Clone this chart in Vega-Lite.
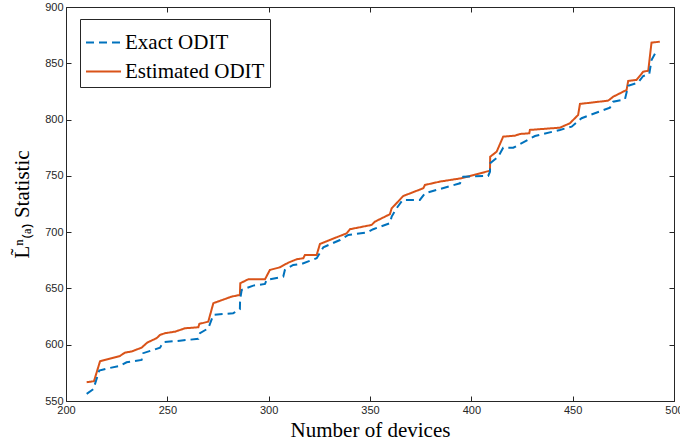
{
  "$schema": "https://vega.github.io/schema/vega-lite/v6.json",
  "width": 608,
  "height": 394,
  "autosize": {"type": "none"},
  "padding": {"left": 66, "top": 7, "right": 6, "bottom": 44},
  "config": {
    "view": {"stroke": "#262626", "strokeWidth": 1},
    "axis": {
      "domain": false,
      "grid": false,
      "tickSize": -5,
      "tickColor": "#262626",
      "labelFlush": false,
      "labelFont": "Liberation Sans",
      "labelFontSize": 11,
      "labelColor": "#262626",
      "titleFont": "Liberation Serif",
      "titleFontSize": 21,
      "titleFontWeight": "normal",
      "titleColor": "#000000"
    },
    "legend": {
      "orient": "none",
      "legendX": 14,
      "legendY": 12,
      "strokeColor": "#262626",
      "fillColor": "#ffffff",
      "padding": 5,
      "labelFont": "Liberation Serif",
      "labelFontSize": 21,
      "labelColor": "#000000",
      "symbolType": "stroke",
      "symbolSize": 1225,
      "symbolStrokeWidth": 2,
      "rowPadding": 0,
      "labelOffset": 3,
      "title": null
    }
  },
  "data": {
    "values": [
      {"series": "Estimated ODIT", "n": 210.2, "v": 566.7},
      {"series": "Estimated ODIT", "n": 213.8, "v": 567.6},
      {"series": "Estimated ODIT", "n": 216.8, "v": 585.3},
      {"series": "Estimated ODIT", "n": 226.6, "v": 590.0},
      {"series": "Estimated ODIT", "n": 229.1, "v": 593.0},
      {"series": "Estimated ODIT", "n": 232.4, "v": 594.0},
      {"series": "Estimated ODIT", "n": 237.3, "v": 597.4},
      {"series": "Estimated ODIT", "n": 240.1, "v": 601.9},
      {"series": "Estimated ODIT", "n": 244.7, "v": 605.8},
      {"series": "Estimated ODIT", "n": 246.4, "v": 608.7},
      {"series": "Estimated ODIT", "n": 248.8, "v": 610.2},
      {"series": "Estimated ODIT", "n": 253.8, "v": 611.6},
      {"series": "Estimated ODIT", "n": 258.7, "v": 614.6},
      {"series": "Estimated ODIT", "n": 265.3, "v": 615.5},
      {"series": "Estimated ODIT", "n": 265.8, "v": 618.5},
      {"series": "Estimated ODIT", "n": 270.2, "v": 620.5},
      {"series": "Estimated ODIT", "n": 272.7, "v": 636.9},
      {"series": "Estimated ODIT", "n": 281.7, "v": 642.7},
      {"series": "Estimated ODIT", "n": 285.8, "v": 644.2},
      {"series": "Estimated ODIT", "n": 286.0, "v": 654.6},
      {"series": "Estimated ODIT", "n": 290.0, "v": 658.2},
      {"series": "Estimated ODIT", "n": 298.2, "v": 658.2},
      {"series": "Estimated ODIT", "n": 300.6, "v": 666.4},
      {"series": "Estimated ODIT", "n": 305.6, "v": 668.8},
      {"series": "Estimated ODIT", "n": 309.7, "v": 672.9},
      {"series": "Estimated ODIT", "n": 313.8, "v": 675.9},
      {"series": "Estimated ODIT", "n": 317.1, "v": 676.8},
      {"series": "Estimated ODIT", "n": 317.9, "v": 679.8},
      {"series": "Estimated ODIT", "n": 323.7, "v": 679.8},
      {"series": "Estimated ODIT", "n": 325.3, "v": 689.5},
      {"series": "Estimated ODIT", "n": 338.5, "v": 699.0},
      {"series": "Estimated ODIT", "n": 340.1, "v": 702.6},
      {"series": "Estimated ODIT", "n": 350.8, "v": 706.4},
      {"series": "Estimated ODIT", "n": 352.4, "v": 709.3},
      {"series": "Estimated ODIT", "n": 359.8, "v": 715.9},
      {"series": "Estimated ODIT", "n": 360.7, "v": 721.2},
      {"series": "Estimated ODIT", "n": 363.1, "v": 725.7},
      {"series": "Estimated ODIT", "n": 366.4, "v": 732.1},
      {"series": "Estimated ODIT", "n": 376.3, "v": 739.0},
      {"series": "Estimated ODIT", "n": 377.1, "v": 741.9},
      {"series": "Estimated ODIT", "n": 384.5, "v": 744.9},
      {"series": "Estimated ODIT", "n": 395.2, "v": 747.9},
      {"series": "Estimated ODIT", "n": 409.2, "v": 754.6},
      {"series": "Estimated ODIT", "n": 409.3, "v": 767.0},
      {"series": "Estimated ODIT", "n": 412.5, "v": 771.5},
      {"series": "Estimated ODIT", "n": 415.7, "v": 784.8},
      {"series": "Estimated ODIT", "n": 421.5, "v": 785.7},
      {"series": "Estimated ODIT", "n": 424.0, "v": 787.2},
      {"series": "Estimated ODIT", "n": 428.6, "v": 787.8},
      {"series": "Estimated ODIT", "n": 428.9, "v": 790.8},
      {"series": "Estimated ODIT", "n": 443.7, "v": 792.8},
      {"series": "Estimated ODIT", "n": 448.6, "v": 796.7},
      {"series": "Estimated ODIT", "n": 452.7, "v": 804.1},
      {"series": "Estimated ODIT", "n": 453.6, "v": 813.9},
      {"series": "Estimated ODIT", "n": 467.5, "v": 816.8},
      {"series": "Estimated ODIT", "n": 470.0, "v": 820.3},
      {"series": "Estimated ODIT", "n": 476.6, "v": 826.3},
      {"series": "Estimated ODIT", "n": 477.4, "v": 834.3},
      {"series": "Estimated ODIT", "n": 481.5, "v": 835.2},
      {"series": "Estimated ODIT", "n": 484.8, "v": 842.5},
      {"series": "Estimated ODIT", "n": 487.3, "v": 843.4},
      {"series": "Estimated ODIT", "n": 488.9, "v": 868.3},
      {"series": "Estimated ODIT", "n": 493.0, "v": 869.2},
      {"series": "Exact ODIT", "n": 210.2, "v": 556.3},
      {"series": "Exact ODIT", "n": 213.5, "v": 560.5},
      {"series": "Exact ODIT", "n": 216.4, "v": 577.0},
      {"series": "Exact ODIT", "n": 220.9, "v": 579.1},
      {"series": "Exact ODIT", "n": 226.6, "v": 581.2},
      {"series": "Exact ODIT", "n": 229.9, "v": 584.4},
      {"series": "Exact ODIT", "n": 237.3, "v": 586.5},
      {"series": "Exact ODIT", "n": 238.1, "v": 592.5},
      {"series": "Exact ODIT", "n": 243.1, "v": 595.4},
      {"series": "Exact ODIT", "n": 246.4, "v": 597.4},
      {"series": "Exact ODIT", "n": 248.0, "v": 602.2},
      {"series": "Exact ODIT", "n": 256.2, "v": 603.6},
      {"series": "Exact ODIT", "n": 265.3, "v": 605.2},
      {"series": "Exact ODIT", "n": 266.1, "v": 610.2},
      {"series": "Exact ODIT", "n": 270.2, "v": 614.6},
      {"series": "Exact ODIT", "n": 272.7, "v": 626.5},
      {"series": "Exact ODIT", "n": 282.5, "v": 628.0},
      {"series": "Exact ODIT", "n": 285.8, "v": 631.5},
      {"series": "Exact ODIT", "n": 285.9, "v": 639.8},
      {"series": "Exact ODIT", "n": 286.7, "v": 648.7},
      {"series": "Exact ODIT", "n": 292.4, "v": 652.5},
      {"series": "Exact ODIT", "n": 298.2, "v": 654.0},
      {"series": "Exact ODIT", "n": 299.0, "v": 657.6},
      {"series": "Exact ODIT", "n": 307.2, "v": 660.5},
      {"series": "Exact ODIT", "n": 308.0, "v": 666.4},
      {"series": "Exact ODIT", "n": 312.1, "v": 670.9},
      {"series": "Exact ODIT", "n": 316.3, "v": 671.8},
      {"series": "Exact ODIT", "n": 323.7, "v": 676.8},
      {"series": "Exact ODIT", "n": 327.0, "v": 686.6},
      {"series": "Exact ODIT", "n": 335.2, "v": 693.0},
      {"series": "Exact ODIT", "n": 339.3, "v": 697.5},
      {"series": "Exact ODIT", "n": 348.4, "v": 699.6},
      {"series": "Exact ODIT", "n": 351.6, "v": 702.6},
      {"series": "Exact ODIT", "n": 359.8, "v": 707.9},
      {"series": "Exact ODIT", "n": 360.7, "v": 713.8},
      {"series": "Exact ODIT", "n": 363.1, "v": 721.2},
      {"series": "Exact ODIT", "n": 366.1, "v": 728.6},
      {"series": "Exact ODIT", "n": 374.6, "v": 728.6},
      {"series": "Exact ODIT", "n": 377.1, "v": 734.5},
      {"series": "Exact ODIT", "n": 394.4, "v": 743.4},
      {"series": "Exact ODIT", "n": 396.0, "v": 749.3},
      {"series": "Exact ODIT", "n": 408.3, "v": 749.9},
      {"series": "Exact ODIT", "n": 409.2, "v": 753.7},
      {"series": "Exact ODIT", "n": 409.3, "v": 761.2},
      {"series": "Exact ODIT", "n": 413.3, "v": 767.0},
      {"series": "Exact ODIT", "n": 415.7, "v": 775.0},
      {"series": "Exact ODIT", "n": 420.7, "v": 775.0},
      {"series": "Exact ODIT", "n": 431.4, "v": 785.4},
      {"series": "Exact ODIT", "n": 443.7, "v": 790.8},
      {"series": "Exact ODIT", "n": 449.5, "v": 793.7},
      {"series": "Exact ODIT", "n": 454.4, "v": 801.2},
      {"series": "Exact ODIT", "n": 468.4, "v": 810.6},
      {"series": "Exact ODIT", "n": 470.0, "v": 815.9},
      {"series": "Exact ODIT", "n": 475.8, "v": 818.0},
      {"series": "Exact ODIT", "n": 477.4, "v": 830.1},
      {"series": "Exact ODIT", "n": 482.3, "v": 832.9},
      {"series": "Exact ODIT", "n": 484.8, "v": 838.7},
      {"series": "Exact ODIT", "n": 487.8, "v": 840.5},
      {"series": "Exact ODIT", "n": 488.9, "v": 852.9},
      {"series": "Exact ODIT", "n": 491.4, "v": 861.2}
    ]
  },
  "layer": [
    {
      "mark": {"type": "line", "strokeWidth": 2},
      "encoding": {
        "x": {
          "field": "n",
          "type": "quantitative",
          "scale": {"domain": [200, 500], "nice": false},
          "axis": {"values": [200, 250, 300, 350, 400, 450, 500], "title": "Number of devices", "labelPadding": 8, "titlePadding": 4}
        },
        "y": {
          "field": "v",
          "type": "quantitative",
          "scale": {"domain": [550, 900], "nice": false},
          "axis": {"values": [550, 600, 650, 700, 750, 800, 850, 900], "title": "L̃ⁿ₍ₐ₎  Statistic", "labelPadding": 8, "titlePadding": 12}
        },
        "color": {
          "field": "series",
          "type": "nominal",
          "scale": {"domain": ["Exact ODIT", "Estimated ODIT"], "range": ["#0072BD", "#D95319"]},
          "legend": {"title": null, "labelFont": "Liberation Serif", "labelFontSize": 21, "orient": "none", "legendX": 14, "legendY": 12}
        },
        "strokeDash": {
          "field": "series",
          "type": "nominal",
          "scale": {"domain": ["Exact ODIT", "Estimated ODIT"], "range": [[8, 5], [1, 0]]},
          "legend": {"title": null, "labelFont": "Liberation Serif", "labelFontSize": 21, "orient": "none", "legendX": 14, "legendY": 12}
        }
      }
    },
    {
      "mark": {"type": "line", "opacity": 0},
      "encoding": {
        "x": {"field": "n", "type": "quantitative", "axis": {"orient": "top", "labels": false, "title": null, "values": [200, 250, 300, 350, 400, 450, 500]}},
        "y": {"field": "v", "type": "quantitative", "axis": {"orient": "right", "labels": false, "title": null, "values": [550, 600, 650, 700, 750, 800, 850, 900]}},
        "detail": {"field": "series", "type": "nominal"}
      }
    }
  ],
  "resolve": {"axis": {"x": "independent", "y": "independent"}}
}
